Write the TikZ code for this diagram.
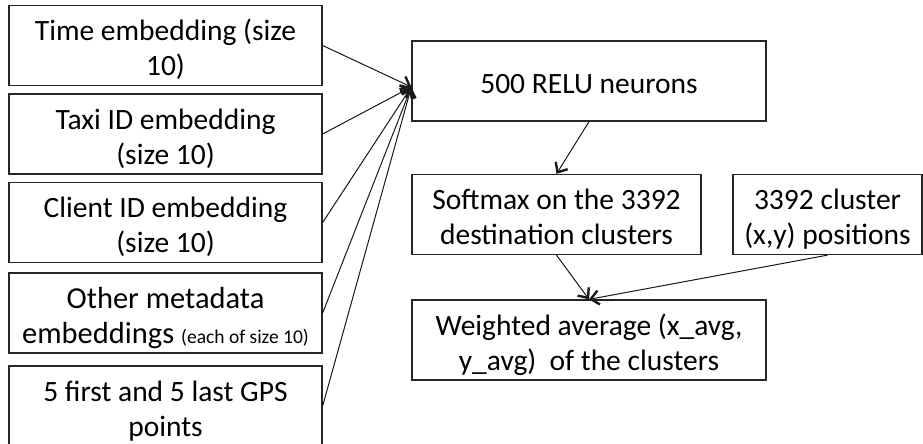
\documentclass[tikz,border=0pt]{standalone}
\usepackage{fontspec}
\setmainfont{Carlito}
\usetikzlibrary{arrows.meta}

\begin{document}
\begin{tikzpicture}[x=1pt, y=-1pt]
       \tikzstyle{every node}=[font=\fontsize{29.5}{35}\selectfont]
       \tikzstyle{box}=[draw=black!85, line width=1.3pt, inner sep=0pt, align=flush center, minimum height=80pt,
                        execute at begin node={\rule{0pt}{33pt}}, execute at end node={\rule[-8pt]{0pt}{8pt}}]
       \tikzstyle{feed}=[draw=black!90, line width=1pt, -{Straight Barb[length=8pt, width=14pt, line width=2.4pt]}]

   \useasboundingbox (0,0) rectangle (923,444);

% inputs
   \node[box, text width=313pt] (time)   at (165.5, 45.5) {Time embedding (size\\10)};
   \node[box, text width=313pt] (taxi)   at (165.5, 134)  {Taxi ID embedding\\(size 10)};
   \node[box, text width=313pt] (client) at (165.5, 222.5) {Client ID embedding\\(size 10)};
   \node[box, text width=313pt, font=\fontsize{30.5}{35}\selectfont] (meta) at (165.5, 313)
      {Other metadata\\embeddings {\fontsize{19.5}{20}\selectfont(each of size 10)}};
   \node[box, text width=313pt] (gps)    at (165.5, 406)  {5 first and 5 last GPS\\points};

% hidden layer
   \node[box, text width=354pt] (relu) at (589, 81) {500 RELU neurons};
   \coordinate (reluin) at ([yshift=-6pt]relu.west);
   \foreach \src in {time, taxi, client, meta, gps}
      \draw[feed] (\src.east) -- (reluin);

% output
   \node[box, text width=289pt] (softmax)  at (556.5, 214.5) {Softmax on the 3392\\destination clusters};
   \node[box, text width=189pt] (clusters) at (827.5, 214.5) {3392 cluster\\(x,y) positions};
   \node[box, text width=354pt] (weighted) at (589, 340) {Weighted average (x\_avg,\\y\_avg)\ \ of the clusters};
   \draw[feed] (relu.south) -- (softmax.north);
   \draw[feed] (softmax.south) -- (weighted.north);
   \draw[feed] (clusters.south) -- (weighted.north);

\end{tikzpicture}
\end{document}
